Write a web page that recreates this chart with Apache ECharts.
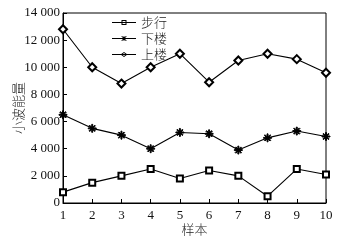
<!DOCTYPE html>
<html>
<head>
<meta charset="utf-8">
<script src="https://cdn.jsdelivr.net/npm/echarts@6/dist/echarts.min.js"></script>
<style>
  html, body { margin: 0; padding: 0; background: #fff; }
  #chart { width: 341px; height: 243px; }
</style>
</head>
<body>
<div id="chart"></div>
<script>
var samples = [1, 2, 3, 4, 5, 6, 7, 8, 9, 10];
var walkValues = [800, 1500, 2000, 2500, 1800, 2400, 2000, 500, 2500, 2100];
var downValues = [6500, 5500, 5000, 4000, 5200, 5100, 3900, 4800, 5300, 4900];
var upValues = [12800, 10000, 8800, 10000, 11000, 8900, 10500, 11000, 10600, 9600];
var seriesNames = ["步行", "下楼", "上楼"];

// asterisk marker built from four thin bars
var asterisk = "path://M-0.6,-5L0.6,-5L0.6,5L-0.6,5Z" +
  "M-5,-0.6L5,-0.6L5,0.6L-5,0.6Z" +
  "M-3.11,-3.96L3.96,3.11L3.11,3.96L-3.96,-3.11Z" +
  "M-3.96,3.11L3.11,-3.96L3.96,-3.11L-3.11,3.96Z";

// legend icons: a short line with the marker in the middle (24 x 5 box)
var lineBar = "M0,2L24,2L24,3L0,3Z";
var legendIcons = [
  "path://" + lineBar + "M9.5,0L14.5,0L14.5,5L9.5,5ZM10.5,1L10.5,4L13.5,4L13.5,1Z" +
    "M10.5,2L13.5,2L13.5,3L10.5,3Z",
  "path://" + lineBar + "M11.6,0L12.4,0L12.4,5L11.6,5Z" +
    "M9.5,0L10.1,0L14.5,4.4L14.5,5L13.9,5L9.5,0.6Z" +
    "M13.9,0L14.5,0L14.5,0.6L10.1,5L9.5,5L9.5,4.4Z",
  "path://" + lineBar + "M12,0L15.5,2.5L12,5L8.5,2.5ZM12,1.1L10.1,2.5L12,3.9L13.9,2.5Z" +
    "M10.5,2L13.5,2L13.5,3L10.5,3Z"
];

var serif = "'Liberation Serif', 'DejaVu Serif', serif";
var cjk = "'Noto Sans CJK SC', sans-serif";

function pairs(values) {
  return samples.map(function(x, i) {
    return [x, values[i]];
  });
}

function thousands(v) {
  if(v < 1000) return String(v);
  var s = String(v);
  return s.slice(0, s.length - 3) + " " + s.slice(s.length - 3);
}

function makeSeries(name, values, symbol, size) {
  return {
    name: name,
    type: "line",
    data: pairs(values),
    symbol: symbol,
    symbolSize: size,
    showAllSymbol: true,
    lineStyle: { color: "#000", width: 1.1 },
    itemStyle: { color: "#000", borderColor: "#000", borderWidth: 1 }
  };
}

var chart = echarts.init(document.getElementById("chart"), null, { renderer: "canvas" });

chart.setOption({
  animation: false,
  backgroundColor: "#fff",
  grid: {
    left: 63, right: 15, top: 13, bottom: 40,
    outerBoundsMode: "none",
    containLabel: false,
    show: true, borderColor: "#000", borderWidth: 1, backgroundColor: "transparent"
  },
  legend: {
    orient: "vertical",
    left: 107, top: 11,
    itemWidth: 24, itemHeight: 5, itemGap: 3,
    textStyle: { fontFamily: cjk, fontSize: 13, color: "#222", fontWeight: 300 },
    itemStyle: { color: "#000", borderWidth: 0 },
    data: seriesNames.map(function(n, i) {
      return { name: n, icon: legendIcons[i] };
    })
  },
  xAxis: {
    type: "value",
    min: 1, max: 10, interval: 1,
    name: "样本",
    nameLocation: "middle",
    nameGap: 20,
    nameMoveOverlap: false,
    nameTextStyle: { fontFamily: cjk, fontSize: 13, color: "#222", fontWeight: 300 },
    axisLine: { lineStyle: { color: "#000", width: 1 } },
    axisTick: { inside: true, length: 4, lineStyle: { color: "#000" } },
    axisLabel: { fontFamily: serif, fontSize: 13, color: "#111", margin: 6 },
    splitLine: { show: false }
  },
  yAxis: {
    type: "value",
    min: 0, max: 14000, interval: 2000,
    name: "小波能量",
    nameLocation: "middle",
    nameGap: 38,
    nameMoveOverlap: false,
    nameTextStyle: { fontFamily: cjk, fontSize: 13, color: "#222", fontWeight: 300 },
    axisLine: { show: true, lineStyle: { color: "#000", width: 1 } },
    axisTick: { show: true, inside: true, length: 4, lineStyle: { color: "#000" } },
    axisLabel: { fontFamily: serif, fontSize: 13, color: "#111", margin: 3, formatter: thousands },
    splitLine: { show: false }
  },
  series: [
    makeSeries(seriesNames[0], walkValues, "emptyRect", 6),
    makeSeries(seriesNames[1], downValues, asterisk, 8),
    makeSeries(seriesNames[2], upValues, "emptyDiamond", 8)
  ]
});
</script>
</body>
</html>
